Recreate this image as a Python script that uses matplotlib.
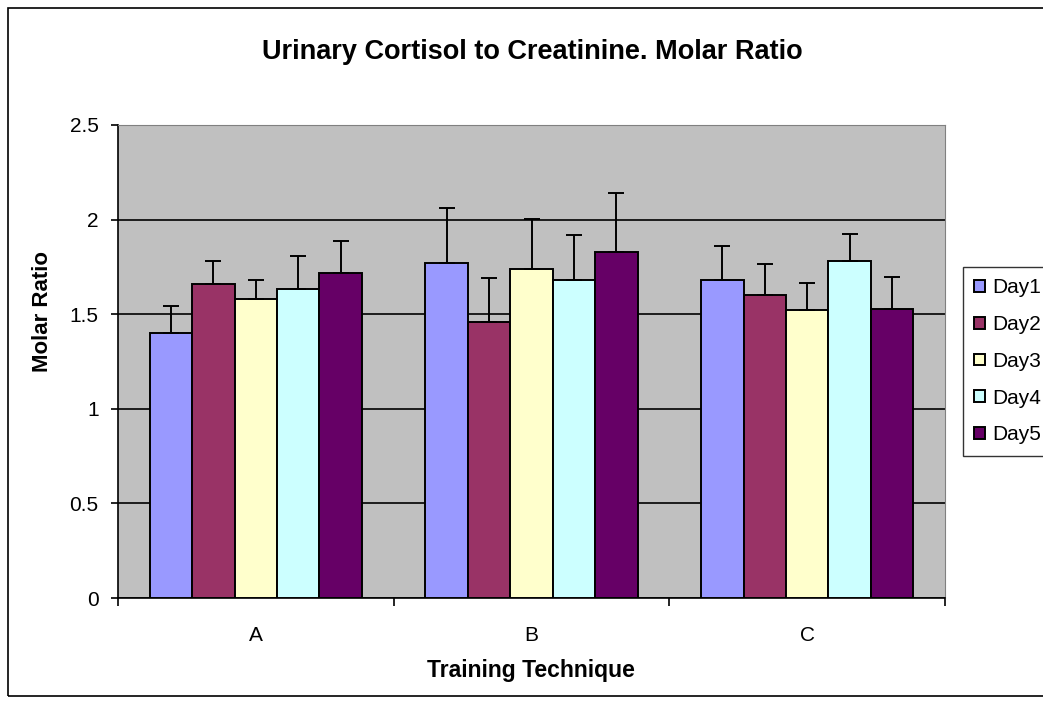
import numpy as np
import matplotlib as mpl
mpl.use('Agg')
import matplotlib.pyplot as plt
from matplotlib.patches import Rectangle

plt.rcParams['font.family'] = ['Liberation Sans', 'DejaVu Sans']

groups = ['A', 'B', 'C']
days = ['Day1', 'Day2', 'Day3', 'Day4', 'Day5']
colors = ['#9999FF', '#993366', '#FFFFCC', '#CCFFFF', '#660066']

# mean molar ratio per day, one list per technique (A, B, C)
day1 = [1.40, 1.77, 1.68]
day2 = [1.66, 1.46, 1.60]
day3 = [1.58, 1.74, 1.52]
day4 = [1.635, 1.68, 1.78]
day5 = [1.72, 1.83, 1.53]
means = [day1, day2, day3, day4, day5]

# upper error bars
err1 = [0.145, 0.29, 0.18]
err2 = [0.12, 0.23, 0.165]
err3 = [0.10, 0.265, 0.145]
err4 = [0.17, 0.24, 0.145]
err5 = [0.165, 0.31, 0.165]
errs = [err1, err2, err3, err4, err5]

fig = plt.figure(figsize=(10.43, 7.04), dpi=100)
fig.patches.append(Rectangle((8/1043, 8/704), 1.2, 1 - 16/704, transform=fig.transFigure,
                             fill=False, edgecolor='black', linewidth=1.2))
ax = fig.add_axes([118/1043, 1 - 598/704, 827/1043, 473/704])
ax.set_facecolor('#C0C0C0')

x = np.arange(len(groups))
w = 1/6.5
for i in range(5):
    pos = x - 2*w + i*w
    ax.bar(pos, means[i], w, color=colors[i], edgecolor='black', linewidth=1.4,
           label=days[i], zorder=3)
    ax.errorbar(pos, means[i], yerr=[np.zeros(3), errs[i]], fmt='none', ecolor='black',
                elinewidth=1.4, capsize=6, capthick=1.4, zorder=4)

ax.set_xlim(-0.5, 2.5)
ax.set_ylim(0, 2.5)
ax.set_yticks(np.arange(0, 2.51, 0.5))
ax.set_yticklabels(['0', '0.5', '1', '1.5', '2', '2.5'])
ax.yaxis.grid(True, color='black', linewidth=1.2, zorder=1)
ax.set_axisbelow(True)

ax.set_xticks([-0.5, 0.5, 1.5, 2.5])
ax.set_xticklabels([])
ax.set_xticks(x, minor=True)
ax.set_xticklabels(groups, minor=True)
ax.tick_params(axis='x', which='minor', length=0, pad=20, labelsize=15)
ax.tick_params(axis='x', which='major', direction='out', length=6, width=1.2)
ax.tick_params(axis='y', direction='out', length=5, width=1.2, labelsize=15, pad=9)

for s in ['top', 'right']:
    ax.spines[s].set_color('#808080')
for s in ['left', 'bottom']:
    ax.spines[s].set_linewidth(1.2)

fig.text(43/1043, 1 - 311/704, 'Molar Ratio', rotation=90, ha='center', va='center',
         fontsize=16, fontweight='bold')
fig.text(531/1043, 1 - 670/704, 'Training Technique', ha='center', va='center',
         fontsize=16.5, fontweight='bold')
fig.text(532/1043, 1 - 52/704, 'Urinary Cortisol to Creatinine. Molar Ratio',
         ha='center', va='center', fontsize=19.5, fontweight='bold')

leg = ax.legend(loc='upper left', bbox_to_anchor=(963/1043, 1 - 267/704),
                bbox_transform=fig.transFigure, frameon=True, fancybox=False,
                fontsize=15, handlelength=0.5, handleheight=0.5, handletextpad=0.35,
                labelspacing=0.85, borderpad=0.55, borderaxespad=0)
leg.get_frame().set_edgecolor('black')
leg.get_frame().set_linewidth(1.0)

plt.savefig('out.png', dpi=100)
plt.close()
